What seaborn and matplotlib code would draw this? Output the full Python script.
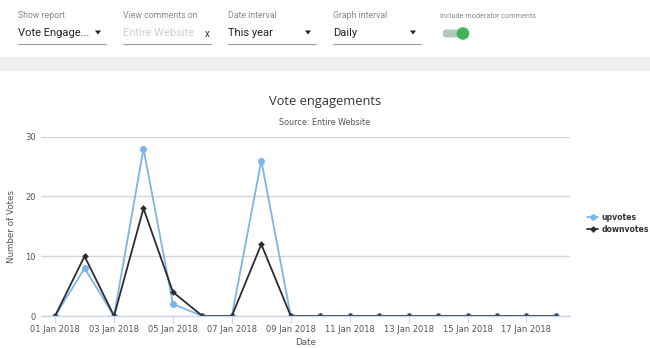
import matplotlib
matplotlib.use("Agg")
import matplotlib.pyplot as plt
import matplotlib.dates as mdates
from matplotlib.lines import Line2D
from matplotlib.patches import Polygon, FancyBboxPatch, Ellipse, Rectangle
import seaborn as sns
import pandas as pd
import numpy as np

# ---- data ----
dates = pd.date_range("2018-01-01", "2018-01-18", freq="D")
upvotes = [0, 8, 0, 28, 2, 0, 0, 26, 0, 0, 0, 0, 0, 0, 0, 0, 0, 0]
downvotes = [0, 10, 0, 18, 4, 0, 0, 12, 0, 0, 0, 0, 0, 0, 0, 0, 0, 0]
series_names = ["upvotes", "downvotes"]
y_ticks = [0, 10, 20, 30]
x_tick_days = [1, 3, 5, 7, 9, 11, 13, 15, 17]

df = pd.DataFrame({
    "Date": list(dates) * 2,
    "votes": upvotes + downvotes,
    "series": ["upvotes"] * len(dates) + ["downvotes"] * len(dates),
})

sns.set_theme(style="white")
plt.rcParams["font.family"] = ["DejaVu Sans"]

W, H = 650, 348
fig = plt.figure(figsize=(W / 100, H / 100), dpi=100)
fig.patch.set_facecolor("white")

def fx(px):
    return px / W

def fy(py):
    return 1 - py / H

# ---- top UI bar ----
fig.patches.append(Rectangle((0, fy(71)), 1, fy(57.5) - fy(71), transform=fig.transFigure,
                             facecolor="#efefef", edgecolor="none", zorder=0))

label_c = "#8a8a8a"
ui_font = "Roboto"
controls = [
    (18, 106, "Show report", "Vote Engage...", "#222222", True),
    (123, 211, "View comments on", "Entire Website", "#cfcfcf", False),
    (228, 316, "Date interval", "This year", "#222222", True),
    (333, 421, "Graph interval", "Daily", "#222222", True),
]
for x0, x1, lab, val, vc, tri in controls:
    fig.text(fx(x0), fy(16), lab, fontsize=6.3, color=label_c, family=ui_font, va="center", ha="left")
    fig.text(fx(x0), fy(33.5), val, fontsize=8.0, color=vc, family=ui_font, va="center", ha="left")
    fig.lines.append(Line2D([fx(x0), fx(x1)], [fy(44), fy(44)], transform=fig.transFigure,
                            color="#9e9e9e", lw=0.8))
    if tri:
        tx = x1 - 8
        fig.patches.append(Polygon([[fx(tx - 3), fy(30.5)], [fx(tx + 3), fy(30.5)], [fx(tx), fy(34.5)]],
                                   closed=True, transform=fig.transFigure, facecolor="#222222",
                                   edgecolor="none"))
    else:
        fig.text(fx(x1 - 4), fy(34), "x", fontsize=7, color="#333333", family=ui_font, va="center", ha="center")

fig.text(fx(440), fy(16), "Include moderator comments", fontsize=5.2, color=label_c, family=ui_font,
         va="center", ha="left")
# toggle switch
fig.patches.append(FancyBboxPatch((fx(443), fy(37.5)), fx(22), fy(29.5) - fy(37.5),
                                  boxstyle="round,pad=0,rounding_size=0.006", transform=fig.transFigure,
                                  facecolor="#b3c9b5", edgecolor="none"))
fig.patches.append(Ellipse((fx(463), fy(33.5)), fx(12.5), 12.5 / H, transform=fig.transFigure,
                           facecolor="#3fb45b", edgecolor="none"))

# ---- chart ----
ax = fig.add_axes([fx(41), fy(316), fx(570) - fx(41), fy(136.7) - fy(316)])
palette = {"upvotes": "#7cb5ec", "downvotes": "#2b2b33"}
sns.lineplot(data=df, x="Date", y="votes", hue="series", style="series",
             hue_order=series_names, style_order=series_names,
             palette=palette, markers={"upvotes": "o", "downvotes": "D"}, dashes=False,
             markersize=5, markeredgewidth=0, linewidth=1.3, ax=ax, legend=False)
for ln in ax.lines:
    if ln.get_marker() == "D":
        ln.set_markersize(3.4)

ax.set_ylim(0, 30)
ax.set_xlim(dates[0] - pd.Timedelta(hours=11.5), dates[-1] + pd.Timedelta(hours=11.5))
ax.set_yticks(y_ticks)
ax.grid(axis="y", color="#d6d6d6", lw=1)
ax.grid(axis="x", visible=False)
for s in ["top", "left", "right"]:
    ax.spines[s].set_visible(False)
ax.spines["bottom"].set_color("#ccd6eb")
ax.spines["bottom"].set_linewidth(1)
ax.xaxis.set_major_locator(mdates.DayLocator(bymonthday=x_tick_days))
ax.xaxis.set_major_formatter(mdates.DateFormatter("%d %b %Y"))
ax.tick_params(axis="x", length=5, width=0.8, color="#ccd6eb", labelsize=6, labelcolor="#555555", pad=1.5,
               bottom=True)
ax.tick_params(axis="y", length=0, labelsize=6, labelcolor="#555555", pad=4)
ax.set_xlabel("Date", fontsize=6.3, color="#555555", labelpad=3)
ax.set_ylabel("Number of Votes", fontsize=6.3, color="#555555", labelpad=6)
ax.set_facecolor("none")

fig.text(0.5, fy(101), "Vote engagements", fontsize=9.3, color="#333333", ha="center", va="center",
         family="Open Sans")
fig.text(0.5, fy(122), "Source: Entire Website", fontsize=5.8, color="#555555", ha="center", va="center")

# legend
handles = [
    Line2D([], [], color=palette["upvotes"], marker="o", markersize=4.5, markeredgewidth=0, lw=1.3),
    Line2D([], [], color=palette["downvotes"], marker="D", markersize=3.5, markeredgewidth=0, lw=1.3),
]
leg = fig.legend(handles, series_names, loc="center left", bbox_to_anchor=(fx(586), fy(223.5)),
                 frameon=False, handlelength=1.5, handletextpad=0.35, labelspacing=0.35,
                 borderaxespad=0, borderpad=0.1,
                 prop={"size": 5.6, "weight": "bold"})
for t in leg.get_texts():
    t.set_color("#333333")

fig.savefig("out.png", dpi=100)
